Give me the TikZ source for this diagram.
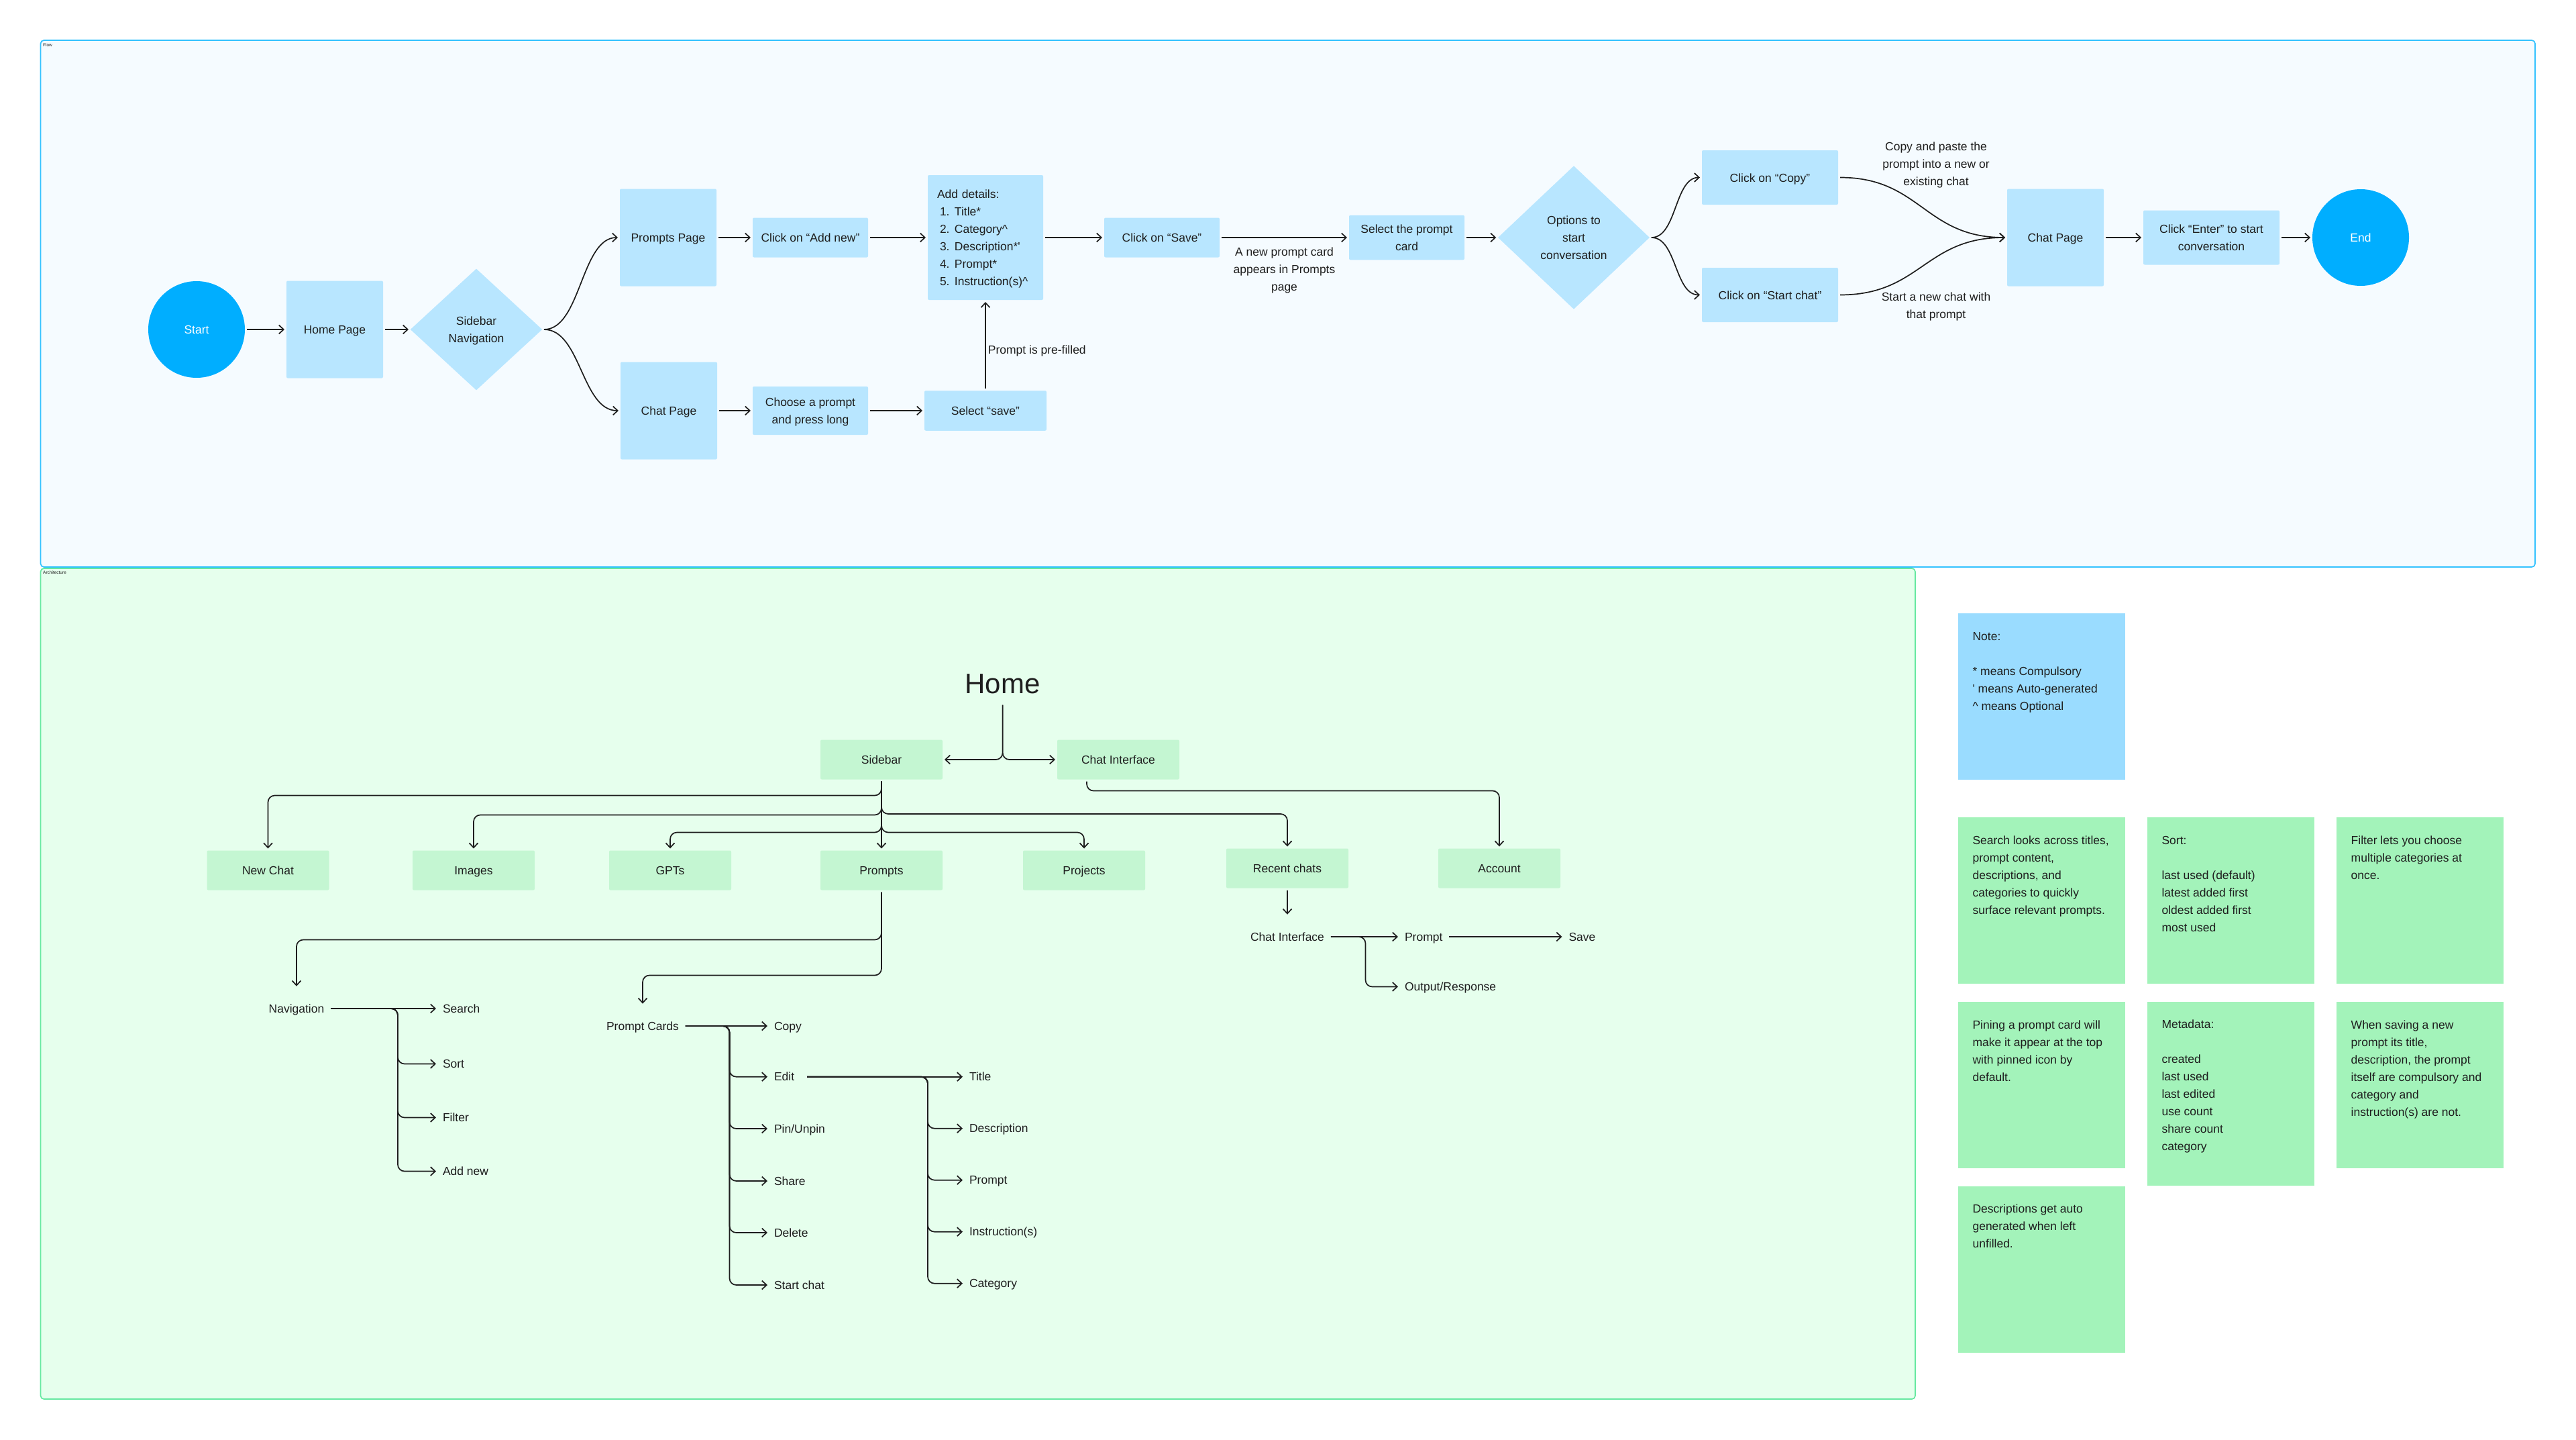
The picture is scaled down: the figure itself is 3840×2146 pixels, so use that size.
\documentclass[tikz,border=0pt]{standalone}
\usepackage{fontspec}
\setmainfont{Liberation Sans}
\usetikzlibrary{shapes.geometric, arrows.meta, positioning}
\definecolor{flowbg}{RGB}{245, 251, 255}
\definecolor{flowline}{RGB}{51, 194, 255}
\definecolor{archbg}{RGB}{230, 255, 237}
\definecolor{archline}{RGB}{102, 232, 160}
\definecolor{skyfill}{RGB}{184, 230, 255}
\definecolor{skystrong}{RGB}{0, 174, 255}
\definecolor{mintfill}{RGB}{196, 246, 210}
\definecolor{notefill}{RGB}{154, 220, 255}
\definecolor{stickyfill}{RGB}{163, 243, 186}
\definecolor{inkblack}{RGB}{30, 30, 30}
\newcommand{\labelfont}{\fontsize{17.5}{26}\selectfont}
\newcommand{\linestrut}{\rule[-6.5pt]{0pt}{26pt}}
\newcommand{\listrow}[2]{\hspace*{4pt}#1\hspace{7.4pt}#2}
\newcommand{\notetext}[2]{\parbox[c][#1][t]{205.6pt}{\raggedright\strut #2}}
\tikzstyle{lined} = [execute at begin node=\linestrut, execute at end node=\linestrut]
\tikzstyle{panel} = [rectangle, rounded corners=5pt, line width=1.7pt, inner sep=0pt]
\tikzstyle{panelname} = [font=\fontsize{6.5}{8}\selectfont, anchor=west, inner sep=0pt]
\tikzstyle{terminal} = [lined, circle, minimum size=144pt, inner sep=0pt, outer sep=3pt, fill=skystrong, text=white]
\tikzstyle{process} = [lined, rectangle, rounded corners=2pt, minimum width=172pt, minimum height=59pt, inner sep=0pt, outer sep=3pt, align=center, fill=skyfill]
\tikzstyle{page} = [process, minimum width=144pt, minimum height=145pt]
\tikzstyle{decision} = [diamond, inner sep=0pt, outer sep=2pt, align=center, fill=skyfill]
\tikzstyle{remark} = [inner sep=0pt, align=center]
\tikzstyle{treebox} = [lined, rectangle, rounded corners=2pt, minimum width=182pt, minimum height=59pt, inner sep=0pt, outer sep=3pt, fill=mintfill]
\tikzstyle{item} = [inner sep=0pt, outer xsep=10pt, outer ysep=27pt, text height=12.5pt, text depth=0pt]
\tikzstyle{sticky} = [rectangle, minimum width=248.6pt, inner xsep=21.5pt, inner ysep=22.1pt, fill=stickyfill]
\tikzstyle{arrow} = [line width=1.7pt, draw=inkblack, ->, >={Straight Barb[length=7pt,width=13pt]}]
\tikzstyle{elbow} = [arrow, rounded corners=10pt]

\begin{document}
\begin{tikzpicture}[x=1pt, y=-1pt, node distance=100pt, every node/.style={font=\labelfont, text=inkblack}]
\useasboundingbox (0,0) rectangle (3840,2146);

\node (archframe) [panel, draw=archline, fill=archbg, minimum width=2794.5pt, minimum height=1238pt] at (1457.75,1466) {};
\node (flowframe) [panel, draw=flowline, fill=flowbg, minimum width=3718.5pt, minimum height=785pt] at (1919.75,452.5) {};
\node (flowname) [panelname] at (64,67) {Flow};
\node (archname) [panelname] at (64,853) {Architecture};

% Flow
\node (start) [terminal] at (293,491) {Start};
\node (home) [page, right of=start, xshift=106pt] {Home Page};
\node (sidenav) [decision, right of=home, xshift=111pt, minimum width=198pt, minimum height=182.5pt] {\linestrut Sidebar\\Navigation\linestrut};
\node (promptspage) [page, right of=sidenav, xshift=186pt, yshift=137pt] {Prompts Page};
\node (chatpage) [page, right of=sidenav, xshift=187pt, yshift=-121pt] {Chat Page};
\node (addnew) [process, right of=promptspage, xshift=112pt] {Click on “Add new”};
\node (choose) [process, right of=chatpage, xshift=111pt, minimum height=72pt] {\linestrut Choose a prompt\\and press long\linestrut};
\node (details) [process, right of=addnew, xshift=161pt, minimum height=186pt, text width=144pt, align=left] {Add details:\\\listrow{1.}{Title*}\\\listrow{2.}{Category\textasciicircum}\\\listrow{3.}{Description*\textquotesingle}\\\listrow{4.}{Prompt*}\\\listrow{5.}{Instruction(s)\textasciicircum}};
\node (selectsave) [process, right of=choose, xshift=161pt, minimum width=182pt, minimum height=59.5pt] {Select “save”};
\node (save) [process, right of=details, xshift=163pt] {Click on “Save”};
\node (card) [process, right of=save, xshift=265pt, minimum height=66.5pt] {\linestrut Select the prompt\\card\linestrut};
\node (options) [decision, right of=card, xshift=149pt, minimum width=227.5pt, minimum height=215pt] {\linestrut Options to\\start\\conversation\linestrut};
\node (copy) [process, right of=options, xshift=192.5pt, yshift=89.5pt, minimum width=203pt, minimum height=81pt] {Click on “Copy”};
\node (startchat) [process, right of=options, xshift=192.5pt, yshift=-85.5pt, minimum width=203pt, minimum height=81pt] {Click on “Start chat”};
\node (chatend) [page, right of=options, xshift=618pt] {Chat Page};
\node (enter) [process, right of=chatend, xshift=132.5pt, minimum width=203pt, minimum height=81pt] {\linestrut Click “Enter” to start\\conversation\linestrut};
\node (finish) [terminal, right of=enter, xshift=122.5pt] {End};
\node (copynote) [remark, right of=copy, xshift=147.5pt, yshift=21pt] {\linestrut Copy and paste the\\prompt into a new or\\existing chat\linestrut};
\node (startnote) [remark, right of=startchat, xshift=147.5pt, yshift=-15pt] {\linestrut Start a new chat with\\that prompt\linestrut};

% Flow arrows
\draw [arrow] (start) -- (home);
\draw [arrow] (home) -- (sidenav);
\draw [arrow] (sidenav.east) .. controls +(55,0) and +(-55,0) .. (promptspage.west);
\draw [arrow] (sidenav.east) .. controls +(55,0) and +(-55,0) .. (chatpage.west);
\draw [arrow] (promptspage) -- (addnew);
\draw [arrow] (chatpage) -- (choose);
\draw [arrow] (addnew) -- (details);
\draw [arrow] (choose) -- (selectsave);
\draw [arrow] (selectsave) -- node (prefilled) [remark, lined, anchor=west, xshift=3pt, pos=0.45] {Prompt is pre-filled} (details);
\draw [arrow] (details) -- (save);
\draw [arrow] (save) -- node (newcard) [remark, anchor=north, yshift=-7pt] {\linestrut A new prompt card\\appears in Prompts\\page\linestrut} (card);
\draw [arrow] (card) -- (options);
\draw [arrow] (options.east) .. controls +(38,0) and +(-38,0) .. (copy.west);
\draw [arrow] (options.east) .. controls +(38,0) and +(-38,0) .. (startchat.west);
\draw [arrow] (copy.east) .. controls +(120,0) and +(-120,0) .. (chatend.west);
\draw [arrow] (startchat.east) .. controls +(120,0) and +(-120,0) .. (chatend.west);
\draw [arrow] (chatend) -- (enter);
\draw [arrow] (enter) -- (finish);

% Architecture
\node (hometitle) [inner sep=0pt, outer sep=17pt, font=\fontsize{42}{48}\selectfont] at (1494.6,1019) {Home};
\node (sidebar) [treebox, below of=hometitle, xshift=-180.6pt, yshift=-13pt] {Sidebar};
\node (chatif) [treebox, right of=sidebar, xshift=253pt] {Chat Interface};
\node (promptsbox) [treebox, below of=sidebar, yshift=-65pt] {Prompts};
\node (newchat) [treebox, left of=promptsbox, xshift=-814.5pt] {New Chat};
\node (images) [treebox, left of=promptsbox, xshift=-508pt] {Images};
\node (gpts) [treebox, left of=promptsbox, xshift=-215pt] {GPTs};
\node (projects) [treebox, right of=promptsbox, xshift=202pt] {Projects};
\node (recent) [treebox, right of=promptsbox, xshift=505pt, yshift=3pt] {Recent chats};
\node (account) [treebox, right of=recent, xshift=216pt] {Account};

\node (navigation) [item, below of=newchat, xshift=42.5pt, yshift=-106pt] {Navigation};
\node (search) [item, anchor=west] at (650,1503) {Search};
\node (sort) [item, below=82.5pt of search.west, anchor=west] {Sort};
\node (filter) [item, below=80pt of sort.west, anchor=west] {Filter};
\node (addnewitem) [item, below=80pt of filter.west, anchor=west] {Add new};

\node (cards) [item, below of=promptsbox, xshift=-356pt, yshift=-132pt] {Prompt Cards};
\node (copyitem) [item, anchor=west] at (1144,1529) {Copy};
\node (edit) [item, below=75.7pt of copyitem.west, anchor=west] {Edit};
\node (pin) [item, below=77.3pt of edit.west, anchor=west] {Pin/Unpin};
\node (share) [item, below=78pt of pin.west, anchor=west] {Share};
\node (delete) [item, below=77pt of share.west, anchor=west] {Delete};
\node (startitem) [item, below=78pt of delete.west, anchor=west] {Start chat};

\node (titleitem) [item, anchor=west] at (1435,1604.7) {Title};
\node (descitem) [item, below=77pt of titleitem.west, anchor=west] {Description};
\node (promptitem) [item, below=77pt of descitem.west, anchor=west] {Prompt};
\node (instritem) [item, below=77pt of promptitem.west, anchor=west] {Instruction(s)};
\node (catitem) [item, below=77pt of instritem.west, anchor=west] {Category};

\node (chatsub) [item, below of=recent, yshift=-2pt] {Chat Interface};
\node (promptsub) [item, anchor=west] at (2084,1396) {Prompt};
\node (saveitem) [item, anchor=west] at (2328.5,1396) {Save};
\node (output) [item, below=74.5pt of promptsub.west, anchor=west] {Output/Response};

\coordinate (navbus) at (593,1503);
\coordinate (cardbus) at (1087.5,1529);
\coordinate (editbus) at (1383,1604.7);
\coordinate (chatbus) at (2035.5,1396);

% Architecture arrows
\draw [elbow] (hometitle.south) |- (sidebar.east);
\draw [elbow] (hometitle.south) |- (chatif.west);
\draw [elbow] (sidebar.south) -- ++(0,21) -| (newchat.north);
\draw [elbow] (sidebar.south) -- ++(0,50) -| (images.north);
\draw [elbow] (sidebar.south) -- ++(0,76) -| (gpts.north);
\draw [arrow] (sidebar.south) -- (promptsbox.north);
\draw [elbow] (sidebar.south) -- ++(0,76) -| (projects.north);
\draw [elbow] (sidebar.south) -- ++(0,48.5) -| (recent.north);
\draw [elbow] ([xshift=-47pt]chatif.south) -- ++(0,14) -| (account.north);
\draw [arrow] (recent.south) -- (chatsub.north);
\draw [elbow] (promptsbox.south) -- ++(0,71) -| (navigation.north);
\draw [elbow] (promptsbox.south) -- ++(0,124) -| (cards.north);

\draw [arrow] (navigation.east) -- (search.west);
\draw [elbow] (navigation.east) -- (navbus) |- (sort.west);
\draw [elbow] (navigation.east) -- (navbus) |- (filter.west);
\draw [elbow] (navigation.east) -- (navbus) |- (addnewitem.west);

\draw [arrow] (cards.east) -- (copyitem.west);
\draw [elbow] (cards.east) -- (cardbus) |- (edit.west);
\draw [elbow] (cards.east) -- (cardbus) |- (pin.west);
\draw [elbow] (cards.east) -- (cardbus) |- (share.west);
\draw [elbow] (cards.east) -- (cardbus) |- (delete.west);
\draw [elbow] (cards.east) -- (cardbus) |- (startitem.west);

\draw [arrow] ([xshift=9pt]edit.east) -- (titleitem.west);
\draw [elbow] ([xshift=9pt]edit.east) -- (editbus) |- (descitem.west);
\draw [elbow] ([xshift=9pt]edit.east) -- (editbus) |- (promptitem.west);
\draw [elbow] ([xshift=9pt]edit.east) -- (editbus) |- (instritem.west);
\draw [elbow] ([xshift=9pt]edit.east) -- (editbus) |- (catitem.west);

\draw [arrow] (chatsub.east) -- (promptsub.west);
\draw [elbow] (chatsub.east) -- (chatbus) |- (output.west);
\draw [arrow] (promptsub.east) -- (saveitem.west);

% Notes
\node (legend) [sticky, fill=notefill] at (3043.3,1038) {\notetext{204.3pt}{Note:\\[26pt]* means Compulsory\\\textquotesingle\ means Auto-generated\\\textasciicircum\ means Optional}};
\node (searchnote) [sticky, below of=legend, yshift=-204pt] {\notetext{204.3pt}{Search looks across titles,\\prompt content,\\descriptions, and\\categories to quickly\\surface relevant prompts.}};
\node (sortnote) [sticky, right of=searchnote, xshift=182pt] {\notetext{204.3pt}{Sort:\\[26pt]last used (default)\\latest added first\\oldest added first\\most used}};
\node (filternote) [sticky, right of=sortnote, xshift=182.2pt] {\notetext{204.3pt}{Filter lets you choose\\multiple categories at\\once.}};
\node (pinnote) [sticky, below of=searchnote, yshift=-175pt] {\notetext{204.3pt}{Pining a prompt card will\\make it appear at the top\\with pinned icon by\\default.}};
\node (metanote) [sticky, right of=pinnote, xshift=182pt, yshift=-12.5pt] {\notetext{229.8pt}{Metadata:\\[26pt]created\\last used\\last edited\\use count\\share count\\category}};
\node (savenote) [sticky, right of=pinnote, xshift=464.2pt] {\notetext{204.3pt}{When saving a new\\prompt its title,\\description, the prompt\\itself are compulsory and\\category and\\instruction(s) are not.}};
\node (descnote) [sticky, below of=pinnote, yshift=-174.8pt] {\notetext{204.3pt}{Descriptions get auto\\generated when left\\unfilled.}};

\end{tikzpicture}
\end{document}
